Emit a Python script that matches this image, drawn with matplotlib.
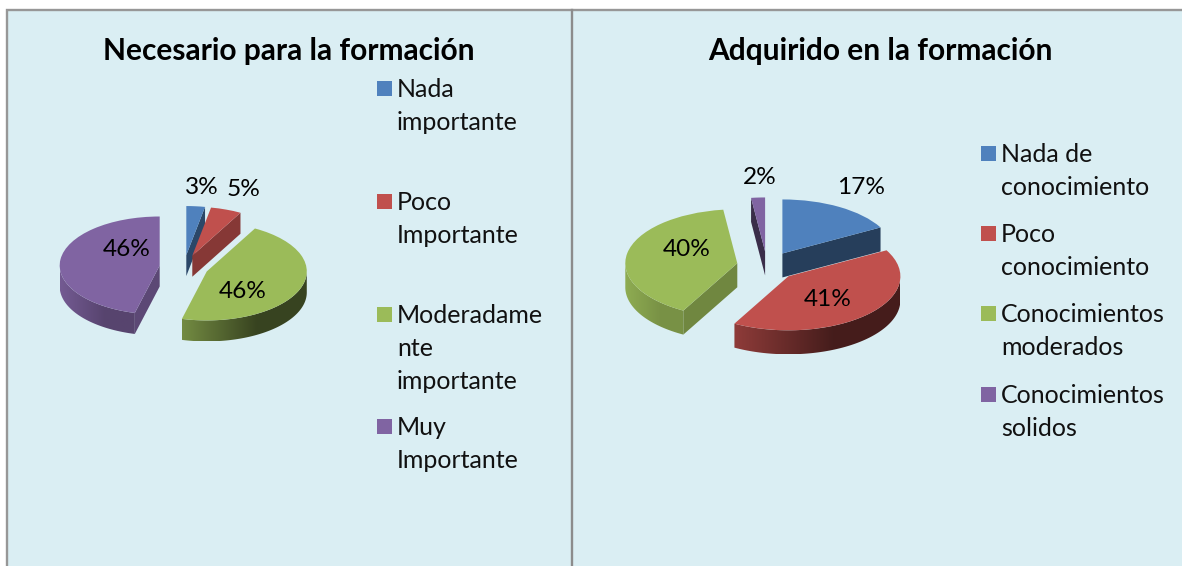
import numpy as np
import matplotlib
matplotlib.use("Agg")
import matplotlib.pyplot as plt
from matplotlib.collections import PolyCollection
from matplotlib.colors import to_rgb
from matplotlib.patches import Polygon, Rectangle

W, H = 1182, 566

colors = ["#4F81BD", "#C0504D", "#9BBB59", "#8064A2"]

title_left = "Necesario para la formación"
values_left = [3, 5, 46, 46]
legend_left = ["Nada\nimportante", "Poco\nImportante", "Moderadame\nnte\nimportante", "Muy\nImportante"]

title_right = "Adquirido en la formación"
values_right = [17, 41, 40, 2]
legend_right = ["Nada de\nconocimiento", "Poco\nconocimiento", "Conocimientos\nmoderados", "Conocimientos\nsolidos"]

# side shading per slice: cut face, rim at left end, rim at right end
face_left = [0.55, 0.70, 0.70, 0.72]
rim_left = [(0.6, 0.5), (0.7, 0.5), (0.74, 0.36), (0.9, 0.68)]
face_right = [0.48, 0.70, 0.72, 0.45]
rim_right = [(0.5, 0.45), (0.74, 0.36), (0.92, 0.78), (0.6, 0.5)]

plt.rcParams["font.family"] = ["Lato", "DejaVu Sans"]

fig = plt.figure(figsize=(W / 100, H / 100), dpi=100, facecolor="white")

# pixel space overlay for frame, text and legend
bg = fig.add_axes([0, 0, 1, 1], zorder=0)
bg.set_xlim(0, W)
bg.set_ylim(H, 0)
bg.axis("off")
top = fig.add_axes([0, 0, 1, 1], zorder=5)
top.set_xlim(0, W)
top.set_ylim(H, 0)
top.axis("off")

bg.add_patch(Rectangle((7, 10), W - 7, H - 10, fc="#DAEEF3", ec="none"))
bg.plot([7, 7, W], [H, 10, 10], color="#979797", lw=1.7, solid_joinstyle="miter")
bg.plot([572, 572], [10, H], color="#8C8C8C", lw=1.7)


def shade(c, f):
    return np.array(to_rgb(c)) * f


def draw_pie(values, cx, cy, rx, ry, depth, explode, faces, rims):
    ax = fig.add_axes([(cx - 1.5 * rx) / W, (H - cy - 2 * ry) / H, 3 * rx / W, 4 * ry / H], zorder=2)
    wedges, _ = ax.pie(values, colors=colors, startangle=90, counterclock=False,
                       explode=[explode] * len(values), wedgeprops={"linewidth": 0})
    d = depth / ry

    # back slices first, so front slices hide their sides
    order = sorted(range(len(wedges)), key=lambda i: -wedges[i].center[1])
    for z, i in enumerate(order):
        w = wedges[i]
        w.set_zorder(z * 2 + 1.5)
        x0, y0 = w.center
        th = np.radians(np.linspace(w.theta1, w.theta2, 160))
        mid = th.mean()
        mx, my = x0 + 0.6 * np.cos(mid), y0 + 0.6 * np.sin(mid)

        # flat cut faces, only those that look at the viewer
        for t in (th[0], th[-1]):
            px, py = x0 + np.cos(t), y0 + np.sin(t)
            if abs(px - x0) < 1e-6:
                continue
            line_y = y0 + (py - y0) * (mx - x0) / (px - x0)
            if my > line_y:
                face = [(x0, y0), (px, py), (px, py - d), (x0, y0 - d)]
                ax.add_collection(PolyCollection([face], facecolors=[shade(colors[i], faces[i])],
                                                 edgecolors="none", zorder=z * 2 + 1))

        # rim, gradient clipped to the outline of the visible side
        keep = np.sin(th) < 0
        if keep.sum() > 1:
            xs = x0 + np.cos(th[keep])
            ys = y0 + np.sin(th[keep])
            outline = np.r_[np.c_[xs, ys], np.c_[xs[::-1], ys[::-1] - d]]
            clip = Polygon(outline, closed=True, transform=ax.transData)
            f0, f1 = rims[i]
            frac = np.linspace(0, 1, 64)
            f = f0 + (f1 - f0) * np.clip(frac / 0.6, 0, 1)
            grad = np.array([[shade(colors[i], v) for v in f]])
            im = ax.imshow(grad, extent=(xs.min(), xs.max(), ys.min() - d, ys.max()), aspect="auto",
                           interpolation="bilinear", zorder=z * 2 + 1)
            im.set_clip_path(clip)

    ax.set_aspect("auto")
    ax.set_xlim(-1.5, 1.5)
    ax.set_ylim(-2, 2)
    ax.axis("off")
    return ax


draw_pie(values_left, 184, 267, 100, 49, 21, 0.245, face_left, rim_left)
draw_pie(values_right, 767, 266, 112, 54, 24, 0.27, face_right, rim_right)

# titles
top.text(288.5, 51, title_left, ha="center", va="center", fontsize=21.5, fontweight="bold", color="black")
top.text(880, 51, title_right, ha="center", va="center", fontsize=21.5, fontweight="bold", color="black")

# data labels
pos_left = [(202, 188), (244, 189), (243, 291), (127, 250)]
pos_right = [(861, 187), (828, 300), (687, 250), (760, 178)]
for vals, pos in ((values_left, pos_left), (values_right, pos_right)):
    for v, (x, y) in zip(vals, pos):
        top.text(x, y, "%d%%" % v, ha="center", va="center", fontsize=17.6, color="black")

# legends, one baseline per line
base_left = [97, 210, 323, 435]
base_right = [162, 242, 322, 403]
for labels, bases, sx, tx in ((legend_left, base_left, 377, 397), (legend_right, base_right, 981, 1001)):
    for c, lab, b in zip(colors, labels, bases):
        for k, line in enumerate(lab.split("\n")):
            top.text(tx, b + k * 32.8, line, ha="left", va="baseline", fontsize=18.0, color="#111111")
        top.add_patch(Rectangle((sx, b - 16), 15, 15, fc=c, ec="none"))

fig.savefig("out.png", dpi=100)
